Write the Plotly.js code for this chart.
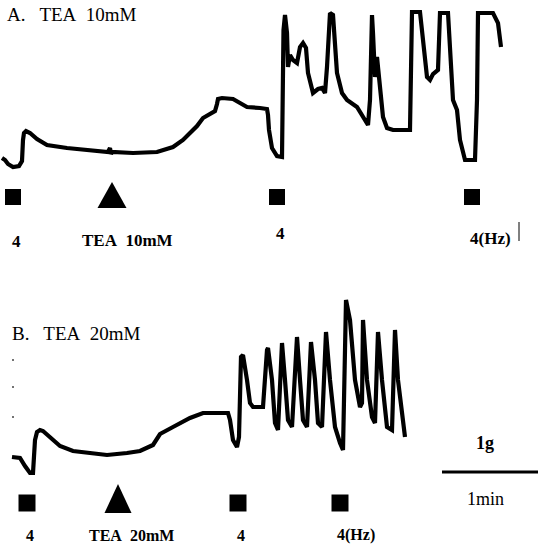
<!DOCTYPE html>
<html><head><meta charset="utf-8">
<script src="https://cdn.plot.ly/plotly-3.0.1.min.js"></script>
<style>html,body{margin:0;padding:0;background:#fff}#c{width:539px;height:545px}</style>
</head><body><div id="c"></div>
<script>
// Panel A: TEA 10mM — time (chart units) and tension (chart units)
const timeA = [2,5,8,13,19,22,23,24,26,30,37,47,67,87,108,110,111,112,133,157,173,183,190,197,203,210,215,217,218,222,233,240,247,260,267,268,269,272,277,282,283,283.5,285,287,288,290,293,297,300,303,306,308,313,318,322,325,327,330,333,335,337,342,347,357,363,368,370,372,373,375,377,380,383,387,393,410,411,412,420,423,427,430,433,438,440,448,450,453,457,460,465,475,477,478,493,498,501];
const tensionA = [42,40,36,33,34,39,60,67,69,67,61,55,52,50,48,52,46,48,47,48,53,60,67,74,82,86,89,96,101,102,101,97,93,92,91,85,70,52,44,43,100,170,185,167,133,145,140,137,153,157,152,127,107,111,112,107,133,187,185,157,127,107,100,93,83,75,100,185,167,123,143,117,83,72,70,70,133,188,188,160,123,120,126,130,187,187,157,100,90,60,40,40,100,187,187,177,153];
// Panel B: TEA 20mM
const timeB = [12,20,25,30,33,35,37,40,43,50,60,73,90,107,127,140,153,160,173,190,203,228,230,233,237,239,241,243,247,250,253,263,267,268,272,275,278,282,285,288,292,297,300,303,307,311,315,318,322,326,330,335,340,343,346,350,355,360,362,363,367,372,375,378,382,387,392,395,398,403,405];
const tensionB = [23,22,14,7,7,40,48,50,49,43,34,29,27,25,27,29,35,46,53,62,67,67,60,40,33,43,123,125,100,77,73,73,130,132,100,57,50,137,100,60,53,143,100,60,53,138,100,57,53,148,100,53,37,30,180,160,100,73,77,160,100,63,57,148,100,53,50,150,100,53,43];
// stimulation / drug application times and labels
const stimA = [13, 277, 472];
const stimLabelsA = ["4", "4", "4(Hz)"];
const drugA = [112];
const drugLabelA = ["TEA\u00a0 10mM"];
const stimB = [27, 238, 340];
const stimLabelsB = ["4", "4", "4(Hz)"];
const drugB = [118];
const drugLabelB = ["TEA\u00a0 20mM"];
const dotsB = [13, 13, 13];
const dotsBy = [120, 93, 63];

const serif = "Liberation Serif, Times New Roman, serif";
const markA = 3, markB = -23;   // marker row levels
const labAy = [-41, -33, -38], labBy = [-55, -55, -55];

const traces = [
  {x: timeA, y: tensionA, mode: 'lines', line: {color: '#000', width: 4.2}, yaxis: 'y', hoverinfo: 'skip'},
  {x: timeB, y: tensionB, mode: 'lines', line: {color: '#000', width: 4.2}, yaxis: 'y2', hoverinfo: 'skip'},
  {x: stimA, y: stimA.map(() => markA), mode: 'markers', marker: {symbol: 'square', size: 16, color: '#000'}, yaxis: 'y'},
  {x: stimB, y: stimB.map(() => markB), mode: 'markers', marker: {symbol: 'square', size: 17, color: '#000'}, yaxis: 'y2'},
  {x: dotsB, y: dotsBy, mode: 'markers', marker: {size: 2, color: '#444'}, yaxis: 'y2'}
];

function tri(t, base, top, hw, yref) {
  return {type: 'path', xref: 'x', yref: yref, fillcolor: '#000', line: {width: 0},
    path: `M ${t - hw},${base} L ${t + hw},${base} L ${t},${top} Z`};
}
const shapes = [];
drugA.forEach(t => shapes.push(tri(t, -8, 18, 14.5, 'y')));
drugB.forEach(t => shapes.push(tri(t, -33, -4, 13.5, 'y2')));
// scale bar (1 min) and tick bar after 4(Hz)
shapes.push({type: 'line', xref: 'x', yref: 'y2', x0: 442, x1: 538, y0: 8, y1: 8, line: {color: '#000', width: 3}});
shapes.push({type: 'line', xref: 'x', yref: 'y', x0: 519, x1: 519, y0: -22, y1: -41, line: {color: '#000', width: 1}});

const ann = [];
function txt(x, y, yref, text, size, bold, xanchor) {
  ann.push({x: x, y: y, xref: 'x', yref: yref, text: bold ? '<b>' + text + '</b>' : text, showarrow: false,
    xanchor: xanchor || 'center', yanchor: 'middle', font: {family: serif, size: size, color: '#000'}});
}
txt(5, 186, 'y', 'A.\u00a0\u00a0 TEA\u00a0 10mM', 19, false, 'left');
txt(10, 147, 'y2', 'B.\u00a0\u00a0 TEA\u00a0 20mM', 19, false, 'left');
stimA.forEach((t, i) => txt(t + (i === 2 ? 18 : 3), labAy[i], 'y', stimLabelsA[i], 17, true));
drugA.forEach((t, i) => txt(t + 15, -40, 'y', drugLabelA[i], 17, true));
stimB.forEach((t, i) => txt(t + (i === 2 ? 16 : 3), labBy[i], 'y2', stimLabelsB[i], 16, true));
drugB.forEach((t, i) => txt(t + 13, -55, 'y2', drugLabelB[i], 16, true));
txt(485, 37, 'y2', '1g', 18, true);
txt(485, -19, 'y2', '1min', 18, false);

const ax = {visible: false, showgrid: false, zeroline: false, fixedrange: true};
Plotly.newPlot('c', traces, {
  width: 539, height: 545, margin: {l: 0, r: 0, t: 0, b: 0},
  paper_bgcolor: '#fff', plot_bgcolor: '#fff', showlegend: false,
  xaxis: Object.assign({range: [0, 539]}, ax),
  yaxis: Object.assign({range: [-345, 200]}, ax),
  yaxis2: Object.assign({range: [-65, 480], overlaying: 'y'}, ax),
  shapes: shapes, annotations: ann
}, {staticPlot: true});
</script></body></html>
